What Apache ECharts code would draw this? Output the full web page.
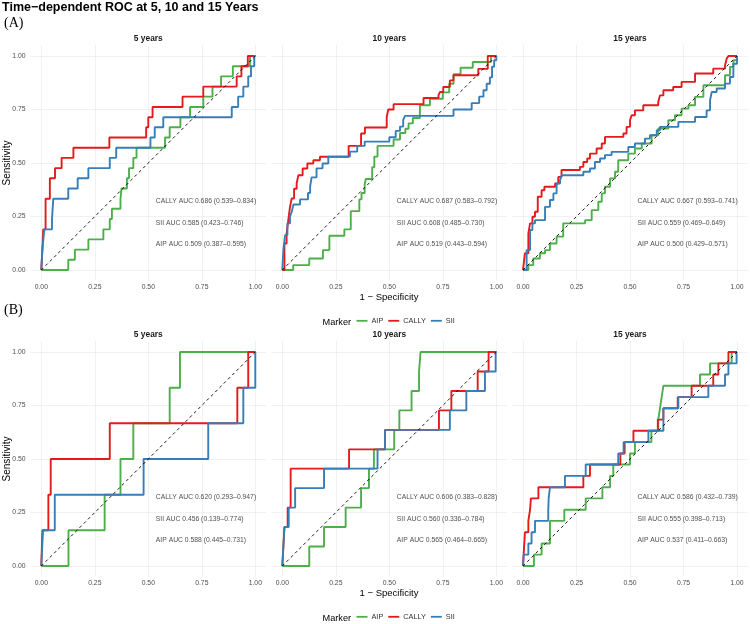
<!DOCTYPE html>
<html>
<head>
    <meta charset="utf-8">
    <title>Time-dependent ROC</title>
    <script src="https://cdn.jsdelivr.net/npm/echarts@6.0.0/dist/echarts.min.js"></script>
    <style>
        html, body { margin: 0; padding: 0; background: #fff; }
        #chart { width: 750px; height: 624px; }
    </style>
</head>
<body>
<div id="chart"></div>
<script>
    // facet titles, markers, ticks
    var panelTitles = ['5 years', '10 years', '15 years'];
    var markers = ['AIP', 'CALLY', 'SII'];
    var tickValues = [0, 0.25, 0.5, 0.75, 1];

    // ROC points [1 - specificity, sensitivity]
    // (A) row
    var rocA5_AIP = [[0,0],[0.126,0.048],[0.157,0.095],[0.22,0.143],[0.29,0.19],[0.32,0.238],[0.33,0.286],[0.37,0.333],[0.375,0.381],[0.40,0.429],[0.41,0.476],[0.43,0.524],[0.445,0.571],[0.578,0.619],[0.60,0.667],[0.65,0.714],[0.695,0.762],[0.757,0.81],[0.80,0.857],[0.84,0.905],[0.895,0.952],[0.975,1],[1,1]];
    var rocA5_CALLY = [[0,0],[0.005,0.095],[0.009,0.19],[0.02,0.333],[0.04,0.429],[0.064,0.476],[0.095,0.524],[0.15,0.571],[0.318,0.619],[0.49,0.667],[0.5,0.714],[0.52,0.762],[0.66,0.81],[0.757,0.857],[0.913,0.905],[0.935,0.952],[0.965,1],[1,1]];
    var rocA5_SII = [[0,0],[0.005,0.095],[0.014,0.19],[0.05,0.238],[0.056,0.333],[0.126,0.381],[0.17,0.429],[0.22,0.476],[0.32,0.524],[0.35,0.571],[0.51,0.619],[0.53,0.667],[0.57,0.714],[0.89,0.762],[0.92,0.81],[0.944,0.857],[0.967,0.905],[0.98,0.952],[0.995,1],[1,1]];

    var rocA10_AIP = [[0,0],[0.051,0.023],[0.126,0.054],[0.19,0.093],[0.22,0.16],[0.29,0.19],[0.32,0.275],[0.36,0.33],[0.37,0.36],[0.385,0.40],[0.39,0.425],[0.42,0.48],[0.43,0.53],[0.445,0.58],[0.52,0.61],[0.55,0.64],[0.575,0.66],[0.59,0.685],[0.61,0.71],[0.643,0.77],[0.69,0.80],[0.75,0.83],[0.78,0.87],[0.80,0.915],[0.833,0.945],[0.89,0.972],[0.975,1],[1,1]];
    var rocA10_CALLY = [[0,0],[0.01,0.124],[0.02,0.17],[0.028,0.233],[0.036,0.295],[0.044,0.334],[0.055,0.38],[0.067,0.404],[0.075,0.443],[0.095,0.474],[0.117,0.498],[0.145,0.513],[0.176,0.529],[0.31,0.58],[0.368,0.638],[0.386,0.666],[0.488,0.715],[0.495,0.75],[0.52,0.775],[0.66,0.804],[0.73,0.817],[0.737,0.832],[0.752,0.855],[0.783,0.886],[0.8,0.91],[0.916,0.94],[0.96,1],[1,1]];
    var rocA10_SII = [[0,0],[0.005,0.093],[0.013,0.163],[0.024,0.218],[0.036,0.25],[0.044,0.272],[0.052,0.306],[0.083,0.33],[0.12,0.36],[0.13,0.39],[0.137,0.433],[0.16,0.475],[0.188,0.498],[0.215,0.53],[0.316,0.553],[0.35,0.58],[0.385,0.60],[0.50,0.62],[0.53,0.65],[0.55,0.67],[0.565,0.70],[0.573,0.72],[0.80,0.75],[0.885,0.78],[0.92,0.81],[0.94,0.84],[0.955,0.87],[0.97,0.90],[0.98,0.95],[0.99,0.98],[1,1]];

    var rocA15_AIP = [[0,0],[0.025,0.023],[0.048,0.054],[0.079,0.078],[0.103,0.093],[0.126,0.124],[0.157,0.156],[0.188,0.218],[0.29,0.233],[0.321,0.28],[0.352,0.319],[0.368,0.358],[0.383,0.389],[0.407,0.428],[0.43,0.459],[0.445,0.513],[0.492,0.544],[0.523,0.568],[0.555,0.591],[0.601,0.63],[0.632,0.661],[0.679,0.7],[0.71,0.723],[0.741,0.754],[0.773,0.77],[0.804,0.809],[0.843,0.863],[0.944,0.91],[0.967,0.949],[0.983,0.98],[1,1]];
    var rocA15_CALLY = [[0,0],[0.009,0.078],[0.025,0.171],[0.033,0.218],[0.044,0.249],[0.056,0.272],[0.069,0.342],[0.087,0.373],[0.1,0.389],[0.15,0.404],[0.165,0.435],[0.18,0.467],[0.266,0.482],[0.282,0.505],[0.3,0.521],[0.313,0.544],[0.344,0.568],[0.368,0.591],[0.383,0.622],[0.469,0.638],[0.484,0.669],[0.5,0.7],[0.508,0.723],[0.523,0.746],[0.562,0.77],[0.632,0.785],[0.64,0.816],[0.656,0.84],[0.702,0.855],[0.741,0.879],[0.804,0.918],[0.889,0.941],[0.944,0.956],[0.952,0.988],[0.96,1],[1,1]];
    var rocA15_SII = [[0,0],[0.017,0.093],[0.033,0.187],[0.044,0.218],[0.056,0.233],[0.103,0.295],[0.126,0.327],[0.142,0.358],[0.157,0.404],[0.173,0.42],[0.181,0.443],[0.282,0.459],[0.313,0.474],[0.336,0.505],[0.36,0.521],[0.383,0.537],[0.414,0.552],[0.492,0.575],[0.523,0.591],[0.57,0.614],[0.593,0.63],[0.625,0.653],[0.64,0.669],[0.726,0.692],[0.804,0.715],[0.858,0.746],[0.874,0.793],[0.882,0.832],[0.905,0.848],[0.944,0.871],[0.967,0.902],[0.983,0.964],[1,1]];

    // (B) row
    var rocB5_AIP = [[0,0],[0.127,0.167],[0.296,0.333],[0.37,0.5],[0.43,0.667],[0.6,0.833],[0.648,1],[1,1]];
    var rocB5_CALLY = [[0,0],[0.005,0.167],[0.033,0.333],[0.044,0.5],[0.32,0.667],[0.916,0.833],[0.967,1],[1,1]];
    var rocB5_SII = [[0,0],[0.008,0.167],[0.063,0.333],[0.478,0.5],[0.78,0.667],[0.944,0.833],[1,1]];

    var rocB10_AIP = [[0,0],[0.126,0.091],[0.195,0.182],[0.296,0.273],[0.368,0.364],[0.405,0.455],[0.428,0.545],[0.523,0.636],[0.547,0.727],[0.604,0.818],[0.639,0.909],[0.646,1],[1,1]];
    var rocB10_CALLY = [[0,0],[0.005,0.091],[0.01,0.182],[0.025,0.273],[0.039,0.455],[0.312,0.545],[0.48,0.636],[0.732,0.727],[0.79,0.818],[0.913,0.909],[0.964,1],[1,1]];
    var rocB10_SII = [[0,0],[0.005,0.091],[0.01,0.182],[0.03,0.273],[0.06,0.364],[0.195,0.455],[0.445,0.545],[0.48,0.636],[0.783,0.727],[0.86,0.818],[0.947,0.909],[0.997,1],[1,1]];

    var rocB15_AIP = [[0,0],[0.051,0.053],[0.087,0.105],[0.126,0.211],[0.193,0.263],[0.293,0.316],[0.371,0.368],[0.407,0.421],[0.422,0.474],[0.5,0.526],[0.523,0.579],[0.6,0.632],[0.632,0.684],[0.64,0.737],[0.648,0.789],[0.656,0.842],[0.827,0.895],[0.874,0.947],[0.975,1],[1,1]];
    var rocB15_CALLY = [[0,0],[0.003,0.053],[0.009,0.158],[0.025,0.211],[0.033,0.263],[0.037,0.316],[0.072,0.368],[0.282,0.421],[0.313,0.474],[0.455,0.526],[0.475,0.579],[0.516,0.632],[0.63,0.684],[0.656,0.737],[0.723,0.789],[0.788,0.842],[0.889,0.895],[0.913,0.947],[0.96,1],[1,1]];
    var rocB15_SII = [[0,0],[0.003,0.053],[0.025,0.105],[0.04,0.158],[0.056,0.211],[0.118,0.263],[0.12,0.316],[0.126,0.368],[0.196,0.421],[0.293,0.474],[0.445,0.526],[0.47,0.579],[0.586,0.632],[0.656,0.737],[0.726,0.789],[0.866,0.842],[0.944,0.895],[0.96,0.947],[0.998,1],[1,1]];

    // AUC labels per panel (CALLY, SII, AIP)
    var aucA5 = ['CALLY AUC 0.686 (0.539\u20130.834)', 'SII AUC 0.585 (0.423\u20130.746)', 'AIP AUC 0.509 (0.387\u20130.595)'];
    var aucA10 = ['CALLY AUC 0.687 (0.583\u20130.792)', 'SII AUC 0.608 (0.485\u20130.730)', 'AIP AUC 0.519 (0.443\u20130.594)'];
    var aucA15 = ['CALLY AUC 0.667 (0.593\u20130.741)', 'SII AUC 0.559 (0.469\u20130.649)', 'AIP AUC 0.500 (0.429\u20130.571)'];
    var aucB5 = ['CALLY AUC 0.620 (0.293\u20130.947)', 'SII AUC 0.456 (0.139\u20130.774)', 'AIP AUC 0.588 (0.445\u20130.731)'];
    var aucB10 = ['CALLY AUC 0.606 (0.383\u20130.828)', 'SII AUC 0.560 (0.336\u20130.784)', 'AIP AUC 0.565 (0.464\u20130.665)'];
    var aucB15 = ['CALLY AUC 0.586 (0.432\u20130.739)', 'SII AUC 0.555 (0.398\u20130.713)', 'AIP AUC 0.537 (0.411\u20130.663)'];

    var panels = [
        [rocA5_AIP, rocA5_CALLY, rocA5_SII, aucA5],
        [rocA10_AIP, rocA10_CALLY, rocA10_SII, aucA10],
        [rocA15_AIP, rocA15_CALLY, rocA15_SII, aucA15],
        [rocB5_AIP, rocB5_CALLY, rocB5_SII, aucB5],
        [rocB10_AIP, rocB10_CALLY, rocB10_SII, aucB10],
        [rocB15_AIP, rocB15_CALLY, rocB15_SII, aucB15]
    ];

    var colors = ['#4DAF4A', '#E41A1C', '#377EB8'];
    var font = '"Liberation Sans", Arial, sans-serif';
    var colLeft = [30.6, 271.6, 512.3];
    var colWidth = 235.4;
    var rowTop = [45.3, 341.3];
    var rowHeight = 235.4;
    var rowShift = 296;

    var grids = [], xAxes = [], yAxes = [], series = [], graphics = [];

    panels.forEach(function (p, i) {
        var col = i % 3, row = Math.floor(i / 3);
        grids.push({left: colLeft[col], top: rowTop[row], width: colWidth, height: rowHeight});
        var axisBase = {
            type: 'value', gridIndex: i, min: -0.05, max: 1.05,
            axisLine: {show: false},
            axisTick: {show: false, customValues: tickValues},
            splitLine: {show: true, lineStyle: {color: '#EBEBEB', width: 0.7}},
            axisLabel: {
                customValues: tickValues, fontSize: 6.8, color: '#4D4D4D', fontFamily: font,
                formatter: function (v) { return v.toFixed(2); }
            }
        };
        var xa = JSON.parse(JSON.stringify(axisBase));
        xa.axisLabel.formatter = axisBase.axisLabel.formatter;
        xa.axisLabel.margin = 3;
        var ya = JSON.parse(JSON.stringify(axisBase));
        ya.axisLabel.formatter = axisBase.axisLabel.formatter;
        ya.axisLabel.margin = 5;
        ya.axisLabel.show = (col === 0);
        xAxes.push(xa);
        yAxes.push(ya);

        for (var k = 0; k < 3; k++) {
            series.push({
                type: 'line', name: markers[k], xAxisIndex: i, yAxisIndex: i,
                data: p[k], step: 'end', symbol: 'none', showSymbol: false,
                lineStyle: {color: colors[k], width: 1.9},
                itemStyle: {color: colors[k]},
                silent: true, z: 2 + k
            });
        }
        // reference diagonal
        series.push({
            type: 'line', name: 'ref' + i, xAxisIndex: i, yAxisIndex: i,
            data: [[0, 0], [1, 1]], symbol: 'none', silent: true, z: 8,
            lineStyle: {color: '#000', width: 0.9, type: [3, 3]}
        });
        // AUC annotations
        series.push({
            type: 'scatter', name: 'auc' + i, xAxisIndex: i, yAxisIndex: i,
            symbolSize: 0.01, itemStyle: {color: 'rgba(0,0,0,0)'}, silent: true, z: 9,
            data: [
                {name: p[3][0], value: [0.535, 0.32]},
                {name: p[3][1], value: [0.535, 0.22]},
                {name: p[3][2], value: [0.535, 0.12]}
            ],
            label: {
                show: true, position: [0, 0], align: 'left', verticalAlign: 'middle',
                formatter: '{b}', fontSize: 6.8, color: '#1A1A1A', fontFamily: font
            }
        });

        // facet title
        graphics.push({
            type: 'text', x: colLeft[col] + colWidth / 2, y: 38.3 + row * rowShift,
            style: {text: panelTitles[col], fontSize: 8.4, fontWeight: 'bold', fill: '#1A1A1A', fontFamily: font,
                textAlign: 'center', textVerticalAlign: 'middle', align: 'center', verticalAlign: 'middle'}
        });
    });

    [0, 1].forEach(function (r) {
        var off = r * rowShift;
        graphics.push({
            type: 'text', x: 7, y: 163 + off, rotation: Math.PI / 2,
            style: {text: 'Sensitivity', fontSize: 10, fill: '#000', fontFamily: font,
                textAlign: 'center', textVerticalAlign: 'middle', align: 'center', verticalAlign: 'middle'}
        });
        graphics.push({
            type: 'text', x: 389, y: 297.5 + off,
            style: {text: '1 \u2212 Specificity', fontSize: 9.5, fill: '#000', fontFamily: font,
                textAlign: 'center', textVerticalAlign: 'middle', align: 'center', verticalAlign: 'middle'}
        });
        graphics.push({
            type: 'text', x: 322.5, y: 322.3 + off,
            style: {text: 'Marker', fontSize: 9.2, fill: '#000', fontFamily: font,
                textAlign: 'left', textVerticalAlign: 'middle', align: 'left', verticalAlign: 'middle'}
        });
    });

    graphics.push({
        type: 'text', x: 2, y: 7.5,
        style: {text: 'Time\u2212dependent ROC at 5, 10 and 15 Years', fontSize: 12.5, fontWeight: 'bold', fill: '#000', fontFamily: font,
            textAlign: 'left', textVerticalAlign: 'middle', align: 'left', verticalAlign: 'middle'}
    });
    graphics.push({
        type: 'text', x: 4, y: 23.5,
        style: {text: '(A)', fontSize: 14, fill: '#000', fontFamily: '"Liberation Serif", "DejaVu Serif", serif',
            textAlign: 'left', textVerticalAlign: 'middle', align: 'left', verticalAlign: 'middle'}
    });
    graphics.push({
        type: 'text', x: 4, y: 310,
        style: {text: '(B)', fontSize: 14, fill: '#000', fontFamily: '"Liberation Serif", "DejaVu Serif", serif',
            textAlign: 'left', textVerticalAlign: 'middle', align: 'left', verticalAlign: 'middle'}
    });

    var legends = [0, 1].map(function (r) {
        return {
            data: markers, left: 356.5, top: 322.3 + r * rowShift - 5, orient: 'horizontal',
            icon: 'rect', itemWidth: 11, itemHeight: 1.8, itemGap: 5, padding: 0,
            selectedMode: false,
            textStyle: {fontSize: 7.3, color: '#333', fontFamily: font, padding: [0, 0, 0, -1]}
        };
    });

    var myChart = echarts.init(document.getElementById('chart'));
    myChart.setOption({
        animation: false,
        backgroundColor: '#fff',
        grid: grids,
        xAxis: xAxes,
        yAxis: yAxes,
        legend: legends,
        graphic: graphics,
        series: series
    });
</script>
</body>
</html>
